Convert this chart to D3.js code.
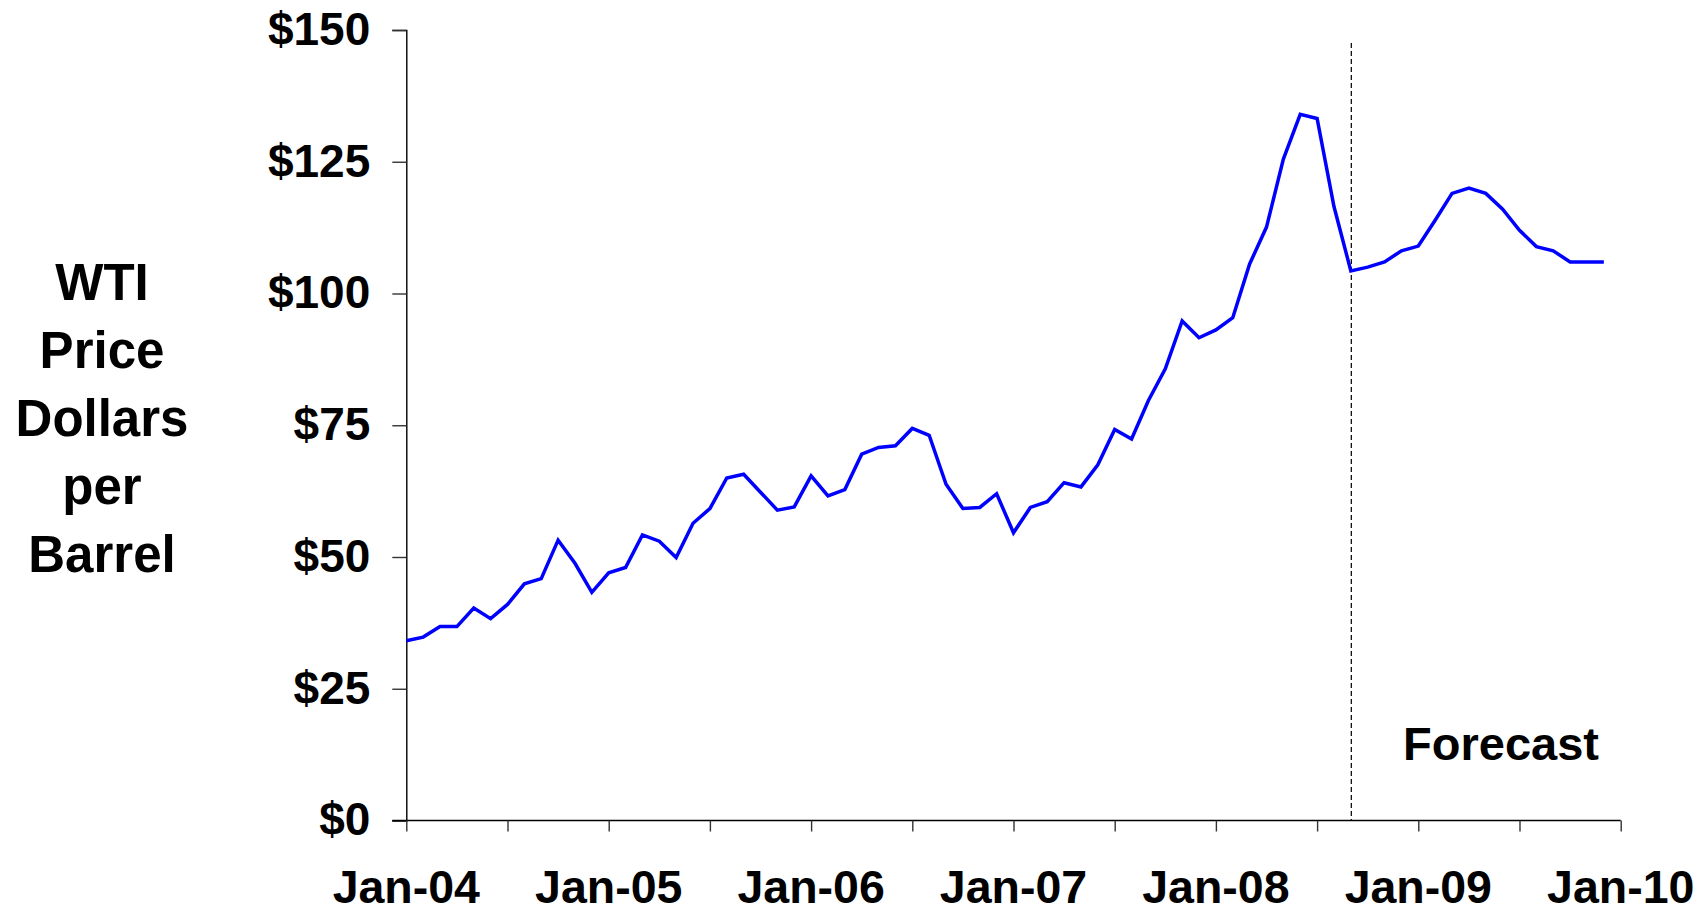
<!DOCTYPE html>
<html>
<head>
<meta charset="utf-8">
<script src="https://cdn.jsdelivr.net/npm/d3@7"></script>
<style>
  html, body { margin: 0; padding: 0; background: #fff; }
  svg { display: block; }
  text { font-family: "Liberation Sans", Arial, sans-serif; font-weight: bold; fill: #000; }
</style>
</head>
<body>
<svg id="chart" width="1707" height="908"></svg>
<script>
// Monthly WTI price, Jan-2004 .. Dec-2009 (index 0 = Jan-04)
const prices = [
  34.1, 34.8, 36.8, 36.8, 40.3, 38.3, 41.0, 44.9, 45.9, 53.2, 48.8, 43.3,
  47.0, 48.0, 54.2, 53.0, 49.9, 56.4, 59.2, 65.0, 65.7, 62.3, 58.9, 59.5,
  65.4, 61.6, 62.8, 69.5, 70.8, 71.1, 74.4, 73.1, 63.8, 59.2, 59.4, 62.0,
  54.6, 59.4, 60.5, 64.1, 63.3, 67.5, 74.2, 72.4, 79.7, 85.7, 94.8, 91.6,
  93.1, 95.4, 105.6, 112.6, 125.5, 134.0, 133.2, 116.5, 104.3, 105.0, 106.0, 108.1,
  109.0, 113.9, 119.0, 120.0, 119.0, 116.0, 112.0, 108.9, 108.1, 106.0, 106.0, 106.0
];
const yTicks = [0, 25, 50, 75, 100, 125, 150];
const xTickMonths = [0, 6, 12, 18, 24, 30, 36, 42, 48, 54, 60, 66, 72];
const xLabelMonths = [0, 12, 24, 36, 48, 60, 72];
const xLabels = ["Jan-04", "Jan-05", "Jan-06", "Jan-07", "Jan-08", "Jan-09", "Jan-10"];
const forecastStart = 56; // Sep-08
const yTitle = ["WTI", "Price", "Dollars", "per", "Barrel"];
const forecastLabel = "Forecast";

const svg = d3.select("#chart");
const x = d3.scaleLinear().domain([0, 72]).range([406.3, 1620.7]);
const y = d3.scaleLinear().domain([0, 150]).range([820.5, 30]);

// Y axis
const yAxis = d3.axisLeft(y).tickValues(yTicks).tickSize(14).tickPadding(22)
  .tickFormat(d => "$" + d);
const gy = svg.append("g").attr("transform", `translate(${x(0)},0)`).call(yAxis);
gy.select(".domain").attr("stroke", "#000").attr("stroke-width", 1.4);
gy.selectAll(".tick line").attr("stroke", "#333").attr("stroke-width", 1.4);
gy.selectAll(".tick text").attr("font-size", 46).attr("font-weight", "bold")
  .attr("font-family", "'Liberation Sans', Arial, sans-serif").attr("fill", "#000")
  .attr("dy", "0.31em").attr("x", -36);

// X axis
const xAxis = d3.axisBottom(x).tickValues(xTickMonths).tickSize(11).tickFormat("");
const gx = svg.append("g").attr("transform", `translate(0,${y(0)})`).call(xAxis);
gx.select(".domain").attr("stroke", "#000").attr("stroke-width", 1.4)
  .attr("d", `M${x(0) - 14},0H${x(72)}`);
gx.selectAll(".tick line").attr("stroke", "#333").attr("stroke-width", 1.4);

svg.append("g").selectAll("text").data(xLabelMonths).join("text")
  .attr("x", d => x(d)).attr("y", 903)
  .attr("text-anchor", "middle").attr("font-size", 46.5)
  .text((d, i) => xLabels[i]);

// Forecast divider
svg.append("line")
  .attr("x1", x(forecastStart) + 0.5).attr("x2", x(forecastStart) + 0.5)
  .attr("y1", 43).attr("y2", y(0))
  .attr("stroke", "#111").attr("stroke-width", 1.3)
  .attr("stroke-dasharray", "5,3");

// Price line
const line = d3.line().x((d, i) => x(i)).y(d => y(d));
svg.append("path").datum(prices)
  .attr("d", line).attr("fill", "none")
  .attr("stroke", "#0000ff").attr("stroke-width", 3.5)
  .attr("stroke-linejoin", "miter");

// Forecast label
svg.append("text").attr("x", 1501).attr("y", 760)
  .attr("text-anchor", "middle").attr("font-size", 47).text(forecastLabel);

// Y title
svg.append("g").selectAll("text").data(yTitle).join("text")
  .attr("x", 102).attr("y", (d, i) => 300 + i * 68)
  .attr("text-anchor", "middle").attr("font-size", 51).text(d => d);
</script>
</body>
</html>
